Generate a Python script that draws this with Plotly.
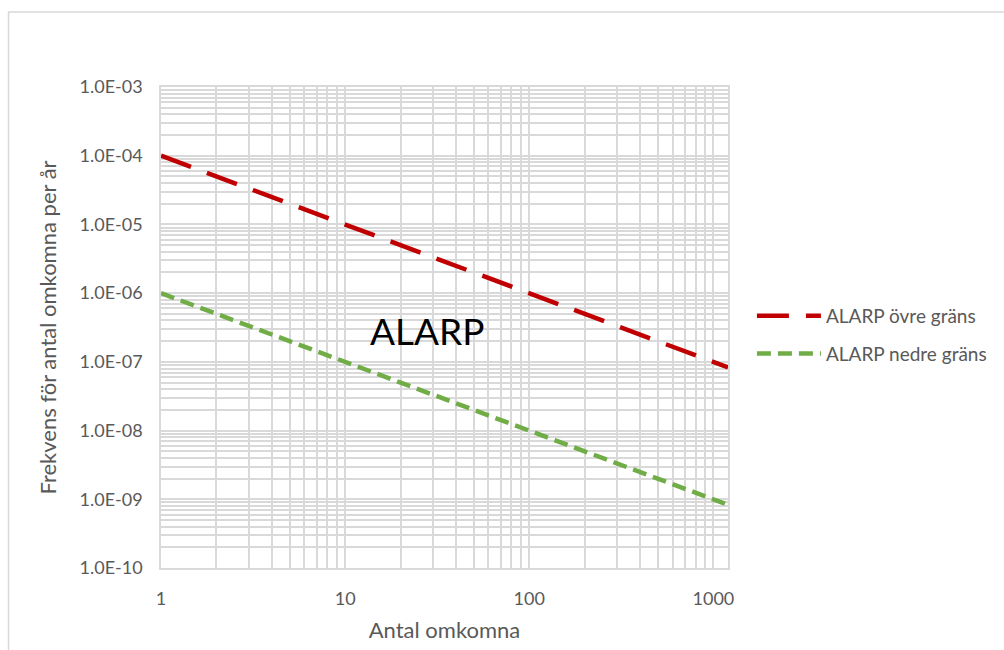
import plotly.graph_objects as go

# Data
antal = [1, 1200]
ovre_grans = [1e-4, 8.3e-8]
nedre_grans = [1e-6, 8.3e-10]
x_ticks = [1, 10, 100, 1000]
x_ticklabels = ["1", "10", "100", "1000"]
y_ticks = [1e-3, 1e-4, 1e-5, 1e-6, 1e-7, 1e-8, 1e-9, 1e-10]
y_ticklabels = ["1.0E-03", "1.0E-04", "1.0E-05", "1.0E-06", "1.0E-07", "1.0E-08", "1.0E-09", "1.0E-10"]

FONT = "Lato"
GREY = "#595959"
GRID = "#D9D9D9"

fig = go.Figure()
fig.add_trace(go.Scatter(
    x=antal, y=ovre_grans, mode="lines", name="ALARP övre gräns",
    line=dict(color="#C00000", width=4.5, dash="32px,17px"),
    legendgroup="a",
))
fig.add_trace(go.Scatter(
    x=antal, y=nedre_grans, mode="lines", name="ALARP nedre gräns",
    line=dict(color="#70AD47", width=4.5, dash="14px,7px"),
    legendgroup="b",
))

L, R, T, B = 161, 730, 87, 568
W, H = 1004, 650
pw, ph = R - L, B - T

fig.update_layout(
    width=W, height=H,
    margin=dict(l=L, r=W - R, t=T, b=H - B, pad=0),
    paper_bgcolor="white",
    plot_bgcolor="white",
    font=dict(family=FONT, color=GREY, size=16),
    showlegend=True,
    legend=dict(
        x=(754 - L) / pw, y=1 - (297 - T) / ph, xanchor="left", yanchor="top",
        font=dict(family=FONT, size=19, color=GREY),
        itemwidth=64, tracegroupgap=10, bgcolor="rgba(0,0,0,0)",
    ),
    xaxis=dict(
        type="log", range=[0, 3.0792],
        tickvals=x_ticks, ticktext=x_ticklabels,
        showgrid=True, gridcolor=GRID, gridwidth=1.5,
        minor=dict(dtick="D1", showgrid=True, gridcolor=GRID, gridwidth=1.5, ticks=""),
        showline=True, linecolor=GRID, linewidth=1.5, mirror=True,
        ticks="", ticklabelstandoff=14,
        tickfont=dict(family=FONT, size=18, color=GREY),
        title=dict(text="Antal omkomna", font=dict(family=FONT, size=22, color=GREY), standoff=14),
        zeroline=False,
    ),
    yaxis=dict(
        type="log", range=[-10, -3],
        tickvals=y_ticks, ticktext=y_ticklabels,
        showgrid=True, gridcolor=GRID, gridwidth=1.5,
        minor=dict(dtick="D1", showgrid=True, gridcolor=GRID, gridwidth=1.5, ticks=""),
        showline=True, linecolor=GRID, linewidth=1.5, mirror=True,
        ticks="", ticklabelstandoff=13,
        tickfont=dict(family=FONT, size=18, color=GREY),
        title=dict(text="Frekvens för antal omkomna per år", font=dict(family=FONT, size=22, color=GREY), standoff=17),
        zeroline=False,
    ),
    annotations=[dict(
        text="ALARP", xref="paper", yref="paper",
        x=(428 - L) / pw, y=1 - (330 - T) / ph,
        showarrow=False, font=dict(family=FONT, size=37, color="black"),
    )],
    shapes=[dict(
        type="rect", xref="paper", yref="paper",
        x0=(8 - L) / pw, x1=2.0, y0=-1.0, y1=1 + (T - 12) / ph,
        line=dict(color=GRID, width=1.5), fillcolor="rgba(0,0,0,0)", layer="below",
    )],
)

fig.write_html("out.html", config={"displayModeBar": False},
               post_script="document.body.style.margin='0px';")
